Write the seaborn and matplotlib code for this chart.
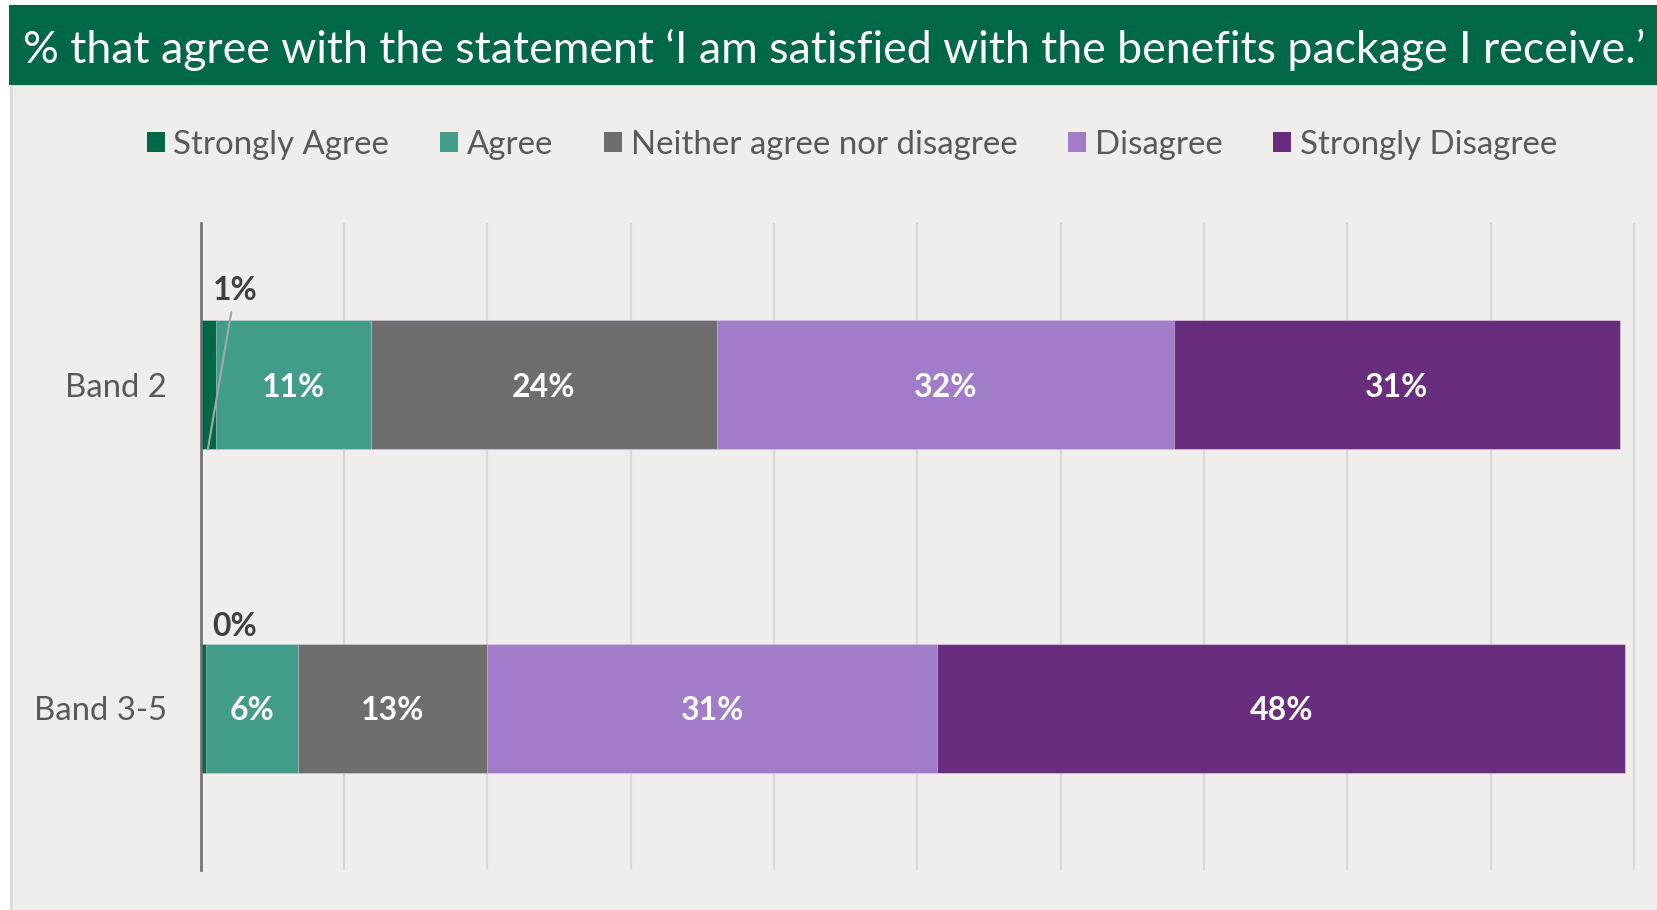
import numpy as np
import pandas as pd
import matplotlib
matplotlib.use("Agg")
import matplotlib.pyplot as plt
import seaborn as sns
from matplotlib.patches import Rectangle, Patch
from matplotlib.textpath import TextPath
from matplotlib.font_manager import FontProperties

# ---------------- data ----------------
categories = ["Band 2", "Band 3-5"]
series = ["Strongly Agree", "Agree", "Neither agree nor disagree", "Disagree", "Strongly Disagree"]
strongly_agree = [0.011, 0.004]
agree = [0.108, 0.064]
neither = [0.241, 0.132]
disagree = [0.319, 0.314]
strongly_disagree = [0.311, 0.480]
title = "% that agree with the statement \u2018I am satisfied with the benefits package I receive.\u2019"

# ---------------- style ----------------
colors = ["#006747", "#419D89", "#6E6E6E", "#A17DC9", "#682D7C"]
W, H, DPI = 1657, 910, 100
FONT = "Lato"

sns.set_theme(style="white")
plt.rcParams["font.family"] = [FONT, "DejaVu Sans"]


def fit(text, px, weight="normal"):
    fp = FontProperties(family=FONT, weight=weight)
    w = TextPath((0, 0), text, size=10, prop=fp).get_extents().width
    return 10 * px * 72 / (DPI * w)


title_fs = fit(title, 1615)
legend_fs = fit("Strongly Agree", 213)
tick_fs = fit("Band 3-5", 128)
label_fs = fit("48%", 62, "bold")

fig = plt.figure(figsize=(W / DPI, H / DPI), dpi=DPI, facecolor="white")
# panel + banner
fig.patches.append(Rectangle((11 / W, -0.01), 1.0, (910 - 84) / H + 0.01, transform=fig.transFigure,
                             facecolor="#EFEEEC", edgecolor="#DADADA", lw=2, zorder=-3))
fig.patches.append(Rectangle((8.5 / W, (910 - 84.5) / H), 1.0, 79.2 / H, transform=fig.transFigure,
                             facecolor="#006747", edgecolor="none", zorder=-2))
fig.text(23 / W, (910 - 63) / H, title, color="white", fontsize=title_fs, ha="left", va="baseline")

xmax = 1.003
ax = fig.add_axes([200.7 / W, 40 / H, 1433.3 * xmax / W, 647 / H])
ax.set_facecolor("none")

values = [strongly_agree, agree, neither, disagree, strongly_disagree]
cum = np.zeros(len(categories))
cums = []
for v in values:
    cum = cum + np.array(v)
    cums.append(cum.copy())

for i in reversed(range(len(series))):
    d = pd.DataFrame({"cat": categories, "val": cums[i]})
    sns.barplot(data=d, x="val", y="cat", orient="h", color=colors[i], saturation=1,
                width=0.4, errorbar=None, ax=ax, edgecolor=(1, 1, 1, 0.45), linewidth=0.6, zorder=2)

# labels
small_dy = [-0.30, -0.26]
leader = [True, False]
for i, v in enumerate(values):
    for j, val in enumerate(v):
        left = cums[i][j] - val
        txt = f"{round(val * 100):.0f}%"
        if val >= 0.03:
            ax.text(left + val / 2, j, txt, ha="center", va="center_baseline", color="white",
                    fontsize=label_fs, fontweight="bold", zorder=5)
        else:
            if leader[j]:
                ax.annotate(txt, xy=(left + val * 0.45, j + 0.2), xytext=(left + val + 0.013, j + small_dy[j]),
                            ha="center", va="center_baseline", color="#404040", fontsize=label_fs,
                            fontweight="bold",
                            arrowprops=dict(arrowstyle="-", color="#A6A6A6", lw=1.5, shrinkA=3, shrinkB=0),
                            zorder=5)
            else:
                ax.text(left + val + 0.02, j + small_dy[j], txt, ha="center", va="center_baseline",
                        color="#404040", fontsize=label_fs, fontweight="bold", zorder=5)

ax.set_xlim(0, xmax)
ax.set_ylim(1.5, -0.5)
ax.set_xticks(np.arange(0, 1.001, 0.1))
ax.tick_params(axis="x", length=0, labelbottom=False)
ax.tick_params(axis="y", length=0, pad=24.5, labelsize=tick_fs, labelcolor="#595959")
ax.grid(axis="x", color="#D9D9D9", lw=1.6)
ax.grid(axis="y", visible=False)
ax.set_axisbelow(True)
for s in ["top", "right", "bottom"]:
    ax.spines[s].set_visible(False)
ax.spines["left"].set_color("#6E6E6E")
ax.spines["left"].set_linewidth(1.9)
ax.spines["left"].set_zorder(6)
ax.set_xlabel("")
ax.set_ylabel("")

em = legend_fs * DPI / 72
handles = [Patch(facecolor=c, edgecolor="none", label=s) for s, c in zip(series, colors)]
fig.legend(handles=handles, loc="center", bbox_to_anchor=(852 / W, (910 - 145) / H), ncol=5, frameon=False,
           fontsize=legend_fs, labelcolor="#595959", handlelength=18 / em, handleheight=18 / em,
           handletextpad=8.5 / em, columnspacing=51 / em, borderpad=0, borderaxespad=0)

fig.savefig("out.png", dpi=DPI, facecolor=fig.get_facecolor())
